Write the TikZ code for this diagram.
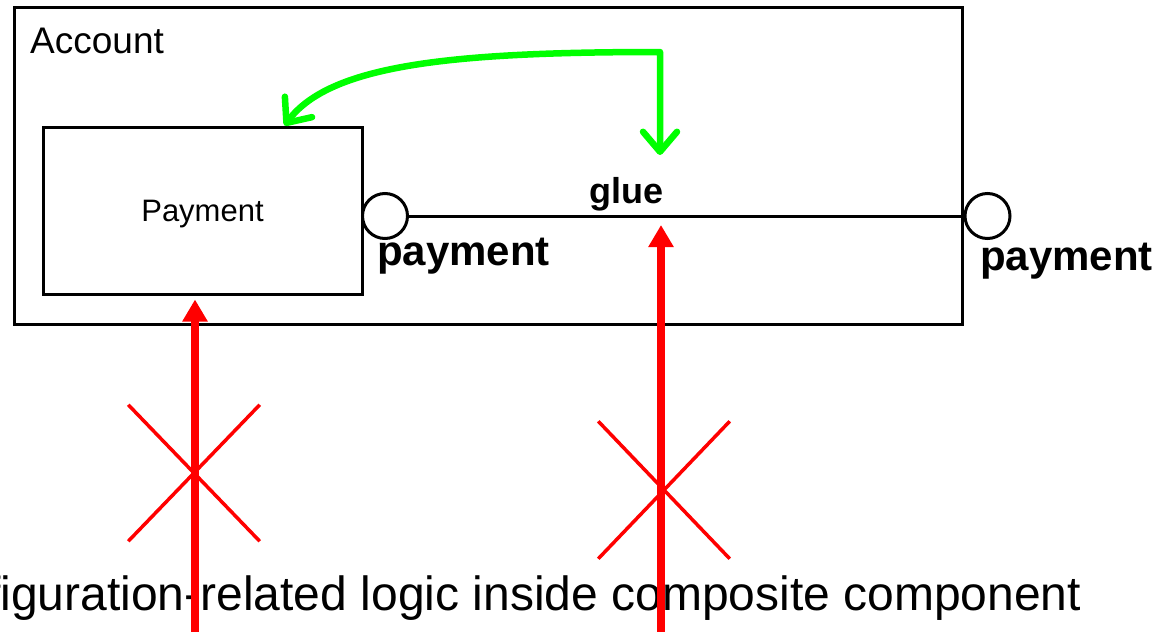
\documentclass[tikz,border=0pt]{standalone}
\usepackage{fontspec}
\setmainfont{Liberation Sans}
\usetikzlibrary{arrows.meta,positioning,shapes.misc}
\definecolor{linkgreen}{RGB}{0,255,0}
\definecolor{vetored}{RGB}{255,0,0}
\tikzset{
  compbox/.style = {rectangle, draw=black, line width=3pt, inner sep=0pt},
  port/.style    = {circle, draw=black, line width=3pt, minimum size=45pt,
                    inner sep=0pt, fill=white},
  portlbl/.style = {anchor=base west, inner sep=0pt,
                    font=\fontsize{42}{48}\selectfont\bfseries},
  wire/.style    = {line width=3pt, draw=black},
  garr/.style    = {{Straight Barb[length=20pt,width=34pt,round]}-{Straight Barb[length=20pt,width=34pt,round]},
                    line width=6.5pt, draw=linkgreen, line join=round},
  varr/.style    = {-{Triangle[length=22pt,width=24pt]}, line width=8pt, draw=vetored},
  veto/.style    = {cross out, draw=vetored, line width=3.5pt, inner sep=0pt},
}

\begin{document}
\begin{tikzpicture}[x=1pt, y=-1pt]
\useasboundingbox (0,0) rectangle (1160,632);
\clip (0,0) rectangle (1160,632);

% Account composite
\node[compbox, minimum width=948pt, minimum height=317pt] (acct) at (488,165.5) {};
\node[anchor=base west, inner sep=0pt, font=\fontsize{37}{44}\selectfont] (acctlbl) at (30,53) {Account};

% Payment part
\node[compbox, minimum width=319pt, minimum height=167pt, text depth=0pt,
      font=\fontsize{31}{36}\selectfont] (pay) at (202.5,210.5) {Payment};

% ports and glue
\node[port] (lport) at (385,216) {};
\node[port] (rport) at (987.5,216) {};
\draw[wire] (lport) -- (rport);
\node[portlbl] (lportlbl) at (377,265) {payment};
\node[portlbl] (rportlbl) at (980,270) {payment};
\node[anchor=base west, inner sep=0pt, font=\fontsize{36}{42}\selectfont\bfseries] (gluelbl) at (589,203) {glue};

% configuration link
\coordinate (gbend) at (660,52);
\coordinate (gdown) at (660,155);
\draw[garr] ([xshift=82pt]pay.north) .. controls (330,65) and (450,52) .. (gbend) -- (gdown);

% caption
\node[anchor=base west, inner sep=0pt, font=\fontsize{48}{55}\selectfont] (note) at (-101,610)
   {Configuration-related logic inside composite component};

% forbidden dependencies
\coordinate (lbot) at (195,700);
\coordinate (rbot) at (661,700);
\draw[varr] (lbot) -- ([yshift=-4pt]lbot |- pay.south);
\draw[varr] (rbot) -- ([yshift=-9pt]rbot |- rport.west);
\node[veto, minimum width=128pt, minimum height=133pt] (lveto) at (194,473) {};
\node[veto, minimum width=128pt, minimum height=134pt] (rveto) at (664,490) {};

\end{tikzpicture}
\end{document}
